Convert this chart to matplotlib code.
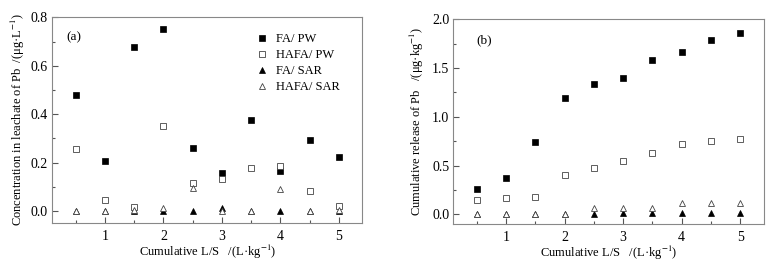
import numpy as np
import matplotlib
matplotlib.use('Agg')
from matplotlib import pyplot as plt
from matplotlib.ticker import MultipleLocator

plt.rcParams['font.family'] = ['Liberation Serif', 'DejaVu Serif']
plt.rcParams['mathtext.fontset'] = 'stix'
plt.rcParams['font.size'] = 9

ls = [0.5, 1, 1.5, 2, 2.5, 3, 3.5, 4, 4.5, 5]
labels = ['FA/ PW', 'HAFA/ PW', 'FA/ SAR', 'HAFA/ SAR']

# (a) concentration in leachate
conc_fa_pw = [0.48, 0.205, 0.677, 0.750, 0.261, 0.156, 0.374, 0.166, 0.295, 0.225]
conc_hafa_pw = [0.258, 0.044, 0.017, 0.350, 0.116, 0.131, 0.179, 0.186, 0.083, 0.021]
conc_fa_sar = [0.0, 0.0, 0.0, 0.0, 0.0, 0.014, 0.0, 0.0, 0.0, 0.0]
conc_hafa_sar = [0.0, 0.0, 0.003, 0.011, 0.095, 0.0, 0.0, 0.090, 0.0, 0.003]

# (b) cumulative release
cum_fa_pw = [0.26, 0.375, 0.738, 1.19, 1.333, 1.40, 1.586, 1.668, 1.785, 1.86]
cum_hafa_pw = [0.143, 0.17, 0.18, 0.40, 0.478, 0.547, 0.625, 0.718, 0.755, 0.77]
cum_fa_sar = [0.0, 0.0, 0.0, 0.0, 0.0, 0.016, 0.016, 0.016, 0.016, 0.016]
cum_hafa_sar = [0.0, 0.0, 0.0, 0.0, 0.06, 0.068, 0.068, 0.113, 0.113, 0.113]

fig = plt.figure(figsize=(7.78, 2.62), dpi=100)
ax1 = fig.add_axes([0.0672, 0.150, 0.3985, 0.784])
ax2 = fig.add_axes([0.5827, 0.145, 0.3989, 0.781])

styles = [dict(marker='s', ms=3.8, mfc='black', mec='black', mew=0.5),
          dict(marker='s', ms=4.0, mfc='white', mec='#444444', mew=0.6),
          dict(marker='^', ms=4.2, mfc='black', mec='black', mew=0.5),
          dict(marker='^', ms=4.6, mfc='white', mec='#444444', mew=0.6)]


def draw(ax, series):
    for y, lab, st in zip(series, labels, styles):
        ax.plot(ls, y, ls='none', label=lab, **st)
    ax.set_xlim(0.1, 5.4)
    ax.xaxis.set_major_locator(MultipleLocator(1))
    ax.xaxis.set_minor_locator(MultipleLocator(0.5))
    ax.tick_params(which='both', direction='in', top=False, right=False,
                   color='#555555', width=0.8, labelsize=10)
    ax.tick_params(which='major', length=4, pad=3)
    ax.tick_params(axis='x', which='major', pad=5)
    ax.tick_params(which='minor', length=2.5)
    for s in ax.spines.values():
        s.set_color('#888888')
        s.set_linewidth(0.8)
    ax.set_xlabel('Cumulative L/S   /(L·kg$^{-1}$)', labelpad=0)


draw(ax1, [conc_fa_pw, conc_hafa_pw, conc_fa_sar, conc_hafa_sar])
ax1.set_ylim(-0.048, 0.8)
ax1.yaxis.set_major_locator(MultipleLocator(0.2))
ax1.yaxis.set_minor_locator(MultipleLocator(0.1))
ax1.set_ylabel('Concentration in leachate of Pb  /(μg·L$^{-1}$)', labelpad=3)
ax1.text(0.047, 0.89, '(a)', transform=ax1.transAxes, fontsize=9.5)
ax1.legend(loc='upper right', bbox_to_anchor=(0.955, 0.965), frameon=False,
           handletextpad=0.5, labelspacing=0.32, borderpad=0.2, handlelength=1.2,
           fontsize=9)

draw(ax2, [cum_fa_pw, cum_hafa_pw, cum_fa_sar, cum_hafa_sar])
ax2.set_ylim(-0.1, 2.0)
ax2.yaxis.set_major_locator(MultipleLocator(0.5))
ax2.yaxis.set_minor_locator(MultipleLocator(0.25))
ax2.set_ylabel('Cumulative release of Pb   /(μg·kg$^{-1}$)', labelpad=4)
ax2.text(0.075, 0.885, '(b)', transform=ax2.transAxes, fontsize=9.5)

fig.savefig('out.png', dpi=100)
